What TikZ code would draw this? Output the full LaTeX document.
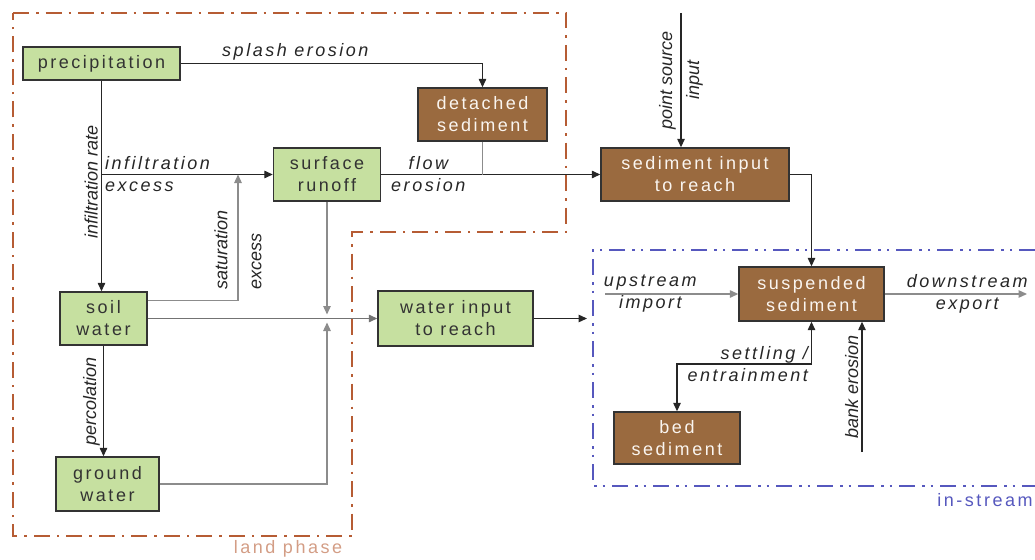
\documentclass[tikz,border=0pt]{standalone}
\usepackage{fontspec}
\setmainfont{Liberation Sans}[LetterSpace=14]
\usepackage{tikz}
\usetikzlibrary{arrows.meta}
\definecolor{boxgreen}{RGB}{198,224,160}
\definecolor{boxbrown}{RGB}{154,106,63}
\definecolor{landred}{RGB}{182,92,52}
\definecolor{streamblue}{RGB}{86,88,190}

\begin{document}
\begin{tikzpicture}[
            x = 1pt, y = -1pt, % pixel grid, y runs down
            > = {Triangle[length=8.5pt,width=7.5pt]}, % arrow head style
            line width = 1.3pt,
            font = \fontsize{18pt}{22pt}\selectfont,
            greenbox/.style = {draw=black!80, fill=boxgreen, text=black!80, align=center, inner sep=2pt, line width=1.4pt},
            brownbox/.style = {draw=black!80, fill=boxbrown, text=white!92!brown, align=center, inner sep=2pt, line width=1.4pt},
            lbl/.style = {font=\fontsize{18pt}{22pt}\selectfont\itshape, text=black!85, inner sep=3pt},
            rotlbl/.style = {lbl, rotate=90, font=\fontsize{18pt}{22pt}\selectfont\itshape\addfontfeatures{LetterSpace=0}},
            darkline/.style = {draw=black!85},
            greyline/.style = {draw=black!45},
            landphase/.style = {draw=landred, line width=2.6pt, dash pattern=on 16pt off 7pt on 2.5pt off 7pt},
            instream/.style = {draw=streamblue, line width=2.6pt, dash pattern=on 16pt off 7pt on 2.5pt off 6pt on 2.5pt off 7pt}
        ]
\useasboundingbox (0,0) rectangle (1035,559);

% zones
\draw[landphase] (13,13) -- (566,13) -- (566,232) -- (352,232) -- (352,536) -- (13,536) -- cycle;
\node[text=landred!60, inner sep=0pt] (landlbl) at (288,549) {land phase};
\draw[instream] (1035,250) -- (593,250) -- (593,486) -- (1035,486);
\node[text=streamblue, inner sep=0pt] (streamlbl) at (985,500) {in-stream};

% boxes
\node[greenbox, minimum width=157pt, minimum height=33pt] (precip) at (101.5,63.5) {precipitation};
\node[brownbox, minimum width=129pt, minimum height=53pt] (detached) at (482.5,114.5) {detached\\sediment};
\node[greenbox, minimum width=107pt, minimum height=53pt] (runoff) at (327,174.5) {surface\\runoff};
\node[brownbox, minimum width=188pt, minimum height=53pt] (sedin) at (695,174.5) {sediment input\\to reach};
\node[greenbox, minimum width=87pt, minimum height=53pt] (soil) at (103.5,318.5) {soil\\water};
\node[greenbox, minimum width=103pt, minimum height=54pt] (ground) at (107.5,484) {ground\\water};
\node[greenbox, minimum width=155pt, minimum height=55pt] (waterin) at (455.5,318.5) {water input\\to reach};
\node[brownbox, minimum width=145pt, minimum height=54pt] (susp) at (811.5,294) {suspended\\sediment};
\node[brownbox, minimum width=126pt, minimum height=52pt] (bed) at (677,438) {bed\\sediment};

% free ends and joins
\coordinate (infx) at (precip.south |- runoff.west);
\coordinate (satin) at (238,174.5);
\coordinate (jn) at (runoff.south |- soil.east);
\coordinate (detx) at (detached.south |- sedin.west);
\coordinate (ptsrc) at (681,13);
\coordinate (instr) at (587,318.5);
\coordinate (upsrc) at (605,294);
\coordinate (dsend) at (1027,294);
\coordinate (settle) at (811.5,364);
\coordinate (bank) at (862,452);

% land phase
\draw[->, darkline] (precip.east) -| node[lbl, above, pos=0.19] (splashlbl) {splash erosion} (detached.north);
\draw[->, darkline] (precip.south) -- node[rotlbl, anchor=south, pos=0.48] (infratelbl) {infiltration rate} (precip.south |- soil.north);
\draw[->, darkline] (infx) -- node[lbl, align=left, anchor=west, pos=0] (infexlbl) {infiltration\\excess} (runoff.west);
\draw[->, greyline] ([yshift=18pt]soil.east) -| node[rotlbl, align=left, pos=0.70] (satlbl) {saturation\\[12pt]excess} (satin);
\draw[->, greyline, shorten >=4pt] (runoff.south) -- (jn);
\draw[->, greyline, shorten >=4pt] (ground.east) -| (jn);
\draw[->, black!55] (soil.east) -- (waterin.west);
\draw[->, darkline] (soil.south) -- node[rotlbl, anchor=south, pos=0.5] (perclbl) {percolation} (soil.south |- ground.north);
\draw[->, darkline] (runoff.east) -- node[lbl, align=center, pos=0.215] (flowlbl) {flow\\erosion} (sedin.west);
\draw[greyline] (detached.south) -- (detx);

% into the reach
\draw[->, darkline] (ptsrc) -- node[rotlbl, align=center, midway] (ptsrclbl) {point source\\[5pt]input} (ptsrc |- sedin.north);
\draw[->, darkline] (sedin.east) -| (susp.north);
\draw[->, darkline] (waterin.east) -- (instr);

% in-stream
\draw[->, greyline] (upsrc) -- node[lbl, align=center, pos=0.34] (uplbl) {upstream\\import} (susp.west);
\draw[->, greyline] (susp.east) -- node[lbl, align=center, pos=0.58] (downlbl) {downstream\\export} (dsend);
\draw[<->, darkline] (susp.south) -- (settle) -| (bed.north);
\node[lbl, align=right, anchor=east] (settlelbl) at (settle) {settling /\\entrainment};
\draw[->, darkline] (bank) -- node[rotlbl, anchor=south, pos=0.5] (banklbl) {bank erosion} (bank |- susp.south);
\end{tikzpicture}
\end{document}
